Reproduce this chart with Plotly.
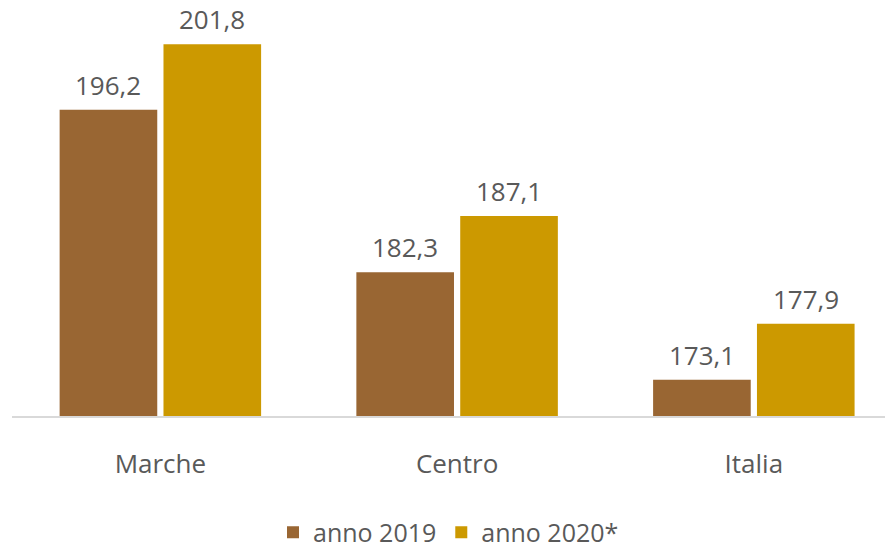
import plotly.graph_objects as go

categories = ["Marche", "Centro", "Italia"]
series_names = ["anno 2019", "anno 2020*"]
values_2019 = [196.2, 182.3, 173.1]
values_2020 = [201.8, 187.1, 177.9]
colors = ["#996633", "#CC9900"]

def fmt(v):
    return f"{v:.1f}".replace(".", ",")

FONT = "Open Sans"
GREY = "#595959"

fig = go.Figure()
for name, vals, col in zip(series_names, [values_2019, values_2020], colors):
    fig.add_trace(go.Bar(
        x=categories, y=vals, name=name,
        marker=dict(color=col, line=dict(width=0)),
        hoverinfo="skip",
    ))

annotations = []
for shift, vals in zip([-52, 52], [values_2019, values_2020]):
    for c, v in zip(categories, vals):
        annotations.append(dict(
            x=c, y=v, xref="x", yref="y", text=fmt(v), showarrow=False,
            xshift=shift, yanchor="bottom", yshift=5,
            font=dict(family=FONT, size=26, color=GREY),
        ))

fig.update_layout(
    width=885, height=549,
    margin=dict(l=12, r=0, t=8, b=133),
    paper_bgcolor="white", plot_bgcolor="white",
    barmode="group", bargap=0.30, bargroupgap=0.06,
    font=dict(family=FONT, size=26, color=GREY),
    showlegend=True,
    legend=dict(
        orientation="h", x=0.5, xanchor="center",
        yref="container", y=0.03, yanchor="middle",
        font=dict(family=FONT, size=25, color=GREY),
        itemwidth=30, tracegroupgap=0,
    ),
    annotations=annotations,
    xaxis=dict(
        range=[-0.5, 2.442], showline=True, linecolor="#D9D9D9", linewidth=1.5,
        ticks="outside", ticklen=24, tickcolor="rgba(0,0,0,0)",
        tickfont=dict(family=FONT, size=26, color=GREY),
        showgrid=False, zeroline=False,
    ),
    yaxis=dict(
        range=[170, 204.9], visible=False, showgrid=False, zeroline=False,
    ),
)

fig.write_html("out.html", config={"displayModeBar": False},
               post_script="document.body.style.margin='0px';")
